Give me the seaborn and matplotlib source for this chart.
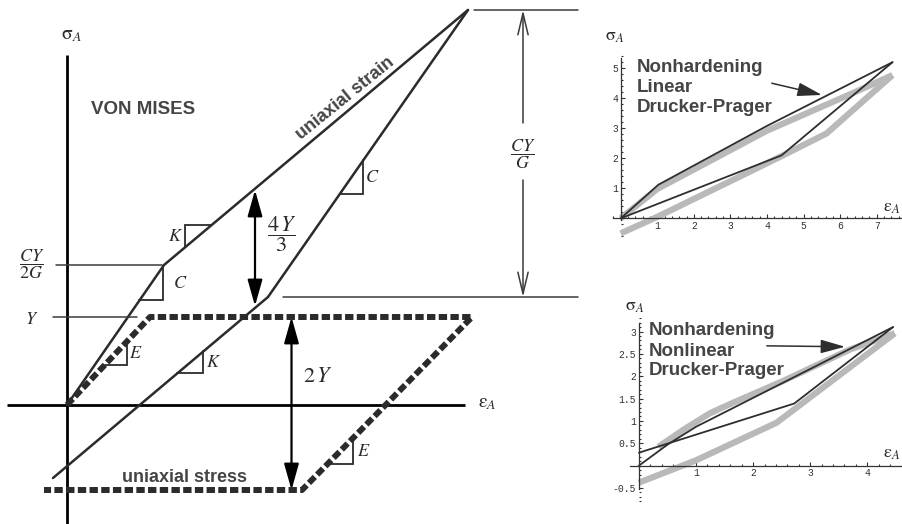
import matplotlib
matplotlib.use("Agg")
import matplotlib.pyplot as plt
from matplotlib.ticker import MultipleLocator, FixedLocator, FixedFormatter
import seaborn as sns

sns.set_theme(style="white")
plt.rcParams["font.family"] = ["Liberation Sans", "DejaVu Sans"]
plt.rcParams["mathtext.fontset"] = "stix"

INK = "#2b2b2b"
LABEL_GRAY = "#454545"
SIM_GRAY = "#b9b9b9"

# ---------------- Von Mises schematic (origin at the axis crossing) ----------------
yield_level = 88            # Y
knee_level = 140            # CY/2G
peak_level = 395            # top of the uniaxial-strain branch
reload_level = 108          # end of the elastic unloading branch

strain_load_x = [0, 97, 401]
strain_load_y = [0, knee_level, peak_level]
strain_unload_x = [401, 201, -14]
strain_unload_y = [peak_level, reload_level, -73]

stress_path_x = [0, 83, 405, 235, -23]
stress_path_y = [0, yield_level, yield_level, -85, -85]

# ---------------- Drucker-Prager simulations ----------------
lin_dark_up_x = [0, 1.03, 4.0, 7.43]
lin_dark_up_y = [0, 1.12, 3.08, 5.2]
lin_dark_lo_x = [0, 4.4, 7.43]
lin_dark_lo_y = [0, 2.1, 5.2]
lin_gray_up_x = [0, 1.0, 4.0, 6.4, 7.43]
lin_gray_up_y = [0, 0.98, 2.92, 4.2, 4.77]
lin_gray_lo_x = [0, 1.0, 4.36, 5.63, 7.43]
lin_gray_lo_y = [-0.5, 0.05, 2.05, 2.83, 4.77]
lin_xticks = [1, 2, 3, 4, 5, 6, 7]
lin_yticks = [1, 2, 3, 4, 5]

nl_dark_up_x = [0, 0.5, 1.0, 4.45]
nl_dark_up_y = [0, 0.47, 0.87, 3.1]
nl_dark_lo_x = [0, 2.72, 4.45]
nl_dark_lo_y = [0.29, 1.39, 3.1]
nl_gray_up_x = [0.34, 0.8, 1.24, 1.6, 2.5, 3.7, 4.48]
nl_gray_up_y = [0.42, 0.82, 1.17, 1.38, 1.88, 2.6, 2.96]
nl_gray_lo_x = [0, 1.0, 2.41, 4.48]
nl_gray_lo_y = [-0.38, 0.12, 0.96, 2.96]
nl_xticks = [1, 2, 3, 4]
nl_yticks = [-0.5, 0.5, 1, 1.5, 2, 2.5, 3]
nl_yticklabels = ["-0.5", "0.5", "1", "1.5", "2", "2.5", "3"]

W, H = 902, 524
fig = plt.figure(figsize=(W / 100, H / 100), dpi=100)
fig.patch.set_facecolor("white")

# ---------------- main schematic ----------------
ax = fig.add_axes([0, 0, 600 / W, 1])
ax.set_xlim(-67, 533)
ax.set_ylim(-119, 405)
ax.set_axis_off()

# coordinate axes
ax.plot([-60, 398], [0, 0], color="black", lw=2.0, solid_capstyle="butt")
ax.plot([0, 0], [-125, 350], color="black", lw=2.0, solid_capstyle="butt")
ax.text(4, 370, r"$\mathrm{\sigma}_{A}$", fontsize=14, ha="center", va="center", color=INK)
ax.text(420, 2, r"$\mathrm{\varepsilon}_{A}$", fontsize=14, ha="center", va="center", color=INK)

# load paths
sns.lineplot(x=stress_path_x, y=stress_path_y, sort=False, estimator=None, ax=ax,
             color=INK, lw=4.3, linestyle=(0, (1.4, 0.56)))
sns.lineplot(x=strain_load_x, y=strain_load_y, sort=False, estimator=None, ax=ax,
             color=INK, lw=1.8)
sns.lineplot(x=strain_unload_x, y=strain_unload_y, sort=False, estimator=None, ax=ax,
             color=INK, lw=1.8)

# level guide lines
guide = dict(color="#3a3a3a", lw=1.1)
ax.plot([-11, 95], [knee_level, knee_level], **guide)
ax.plot([-14, 70], [yield_level, yield_level], **guide)
ax.plot([407, 511], [peak_level, peak_level], **guide)
ax.plot([216, 511], [reload_level, reload_level], **guide)

ax.text(-35, knee_level + 1, r"$\dfrac{CY}{2G}$", fontsize=13, ha="center", va="center", color=INK)
ax.text(-35, yield_level - 2, r"$Y$", fontsize=13, ha="center", va="center", color=INK)


def slope_triangle(p0, p1, x_at, leg, label, dx, above=False):
    s = (p1[1] - p0[1]) / (p1[0] - p0[0])
    y_at = p0[1] + s * (x_at - p0[0])
    if above:
        xs = [x_at, x_at, x_at + leg / s]
        ys = [y_at, y_at + leg, y_at + leg]
        ym = y_at + leg / 2
    else:
        xs = [x_at, x_at, x_at - leg / s]
        ys = [y_at, y_at - leg, y_at - leg]
        ym = y_at - leg / 2
    ax.plot(xs, ys, color=INK, lw=1.3, solid_joinstyle="miter")
    ax.text(x_at + dx, ym, "$" + label + "$", fontsize=13, ha="center", va="center", color=INK)


slope_triangle((0, 0), (97, knee_level), 96.3, 34.4, "C", 17)
slope_triangle((97, knee_level), (401, peak_level), 118, 22, "K", -10, above=True)
slope_triangle((401, peak_level), (201, reload_level), 296.3, 34, "C", 9)
slope_triangle((0, 0), (83, yield_level), 60.3, 24, "E", 8)
slope_triangle((201, reload_level), (-14, -73), 136.3, 22, "K", 10)
slope_triangle((405, yield_level), (235, -85), 285.7, 25.6, "E", 11)

# dimension arrows
ax.annotate("", xy=(188, 99), xytext=(188, 215),
            arrowprops=dict(arrowstyle="<|-|>,head_length=1.6,head_width=0.45",
                            color="black", lw=1.6, shrinkA=0, shrinkB=0, mutation_scale=10))
ax.text(215, 171, r"$\dfrac{4\,Y}{3}$", fontsize=16, ha="center", va="center", color=INK)

ax.annotate("", xy=(224.5, -85), xytext=(224.5, yield_level),
            arrowprops=dict(arrowstyle="<|-|>,head_length=1.6,head_width=0.45",
                            color="black", lw=1.6, shrinkA=0, shrinkB=0, mutation_scale=10))
ax.text(251, 28, r"$2\,Y$", fontsize=16, ha="center", va="center", color=INK)

open_head = dict(arrowstyle="->,head_length=1.55,head_width=0.37", color="#3a3a3a",
                 lw=1.1, shrinkA=0, shrinkB=0, mutation_scale=10)
ax.annotate("", xy=(456, peak_level), xytext=(456, 282), arrowprops=open_head)
ax.annotate("", xy=(456, reload_level), xytext=(456, 225), arrowprops=open_head)
ax.text(456, 251, r"$\dfrac{CY}{G}$", fontsize=13, ha="center", va="center", color=INK)

# captions
bold = dict(fontweight="bold", color=LABEL_GRAY, family=["Liberation Sans", "DejaVu Sans"])
ax.text(76, 296, "VON MISES", fontsize=13.5, ha="center", va="center", **bold)
ax.text(278, 307, "uniaxial strain", fontsize=13, rotation=39, ha="center", va="center",
        rotation_mode="anchor", **bold)
ax.text(117, -73, "uniaxial stress", fontsize=13, ha="center", va="center", **bold)


# ---------------- small simulation panels ----------------
def style_panel(a, xlim, ylim, xb, yb, xticks, yticks, yticklabels=None):
    a.set_xlim(*xlim)
    a.set_ylim(*ylim)
    a.patch.set_alpha(0)
    for side in ("top", "right"):
        a.spines[side].set_visible(False)
    for side in ("left", "bottom"):
        a.spines[side].set_position(("data", 0))
        a.spines[side].set_color("#333333")
        a.spines[side].set_linewidth(0.9)
    a.spines["bottom"].set_bounds(*xb)
    a.spines["left"].set_bounds(*yb)
    a.xaxis.set_major_locator(FixedLocator(xticks))
    a.yaxis.set_major_locator(FixedLocator(yticks))
    if yticklabels is not None:
        a.yaxis.set_major_formatter(FixedFormatter(yticklabels))
    a.xaxis.set_minor_locator(MultipleLocator(0.2))
    a.yaxis.set_minor_locator(MultipleLocator(0.2 if yticklabels is None else 0.1))
    a.tick_params(which="both", direction="in", colors="#333333", width=0.8,
                  bottom=True, left=True, labelsize=7, pad=2)
    a.tick_params(which="major", length=3.2)
    a.tick_params(which="minor", length=1.6)
    for lab in a.get_xticklabels() + a.get_yticklabels():
        lab.set_family(["Liberation Mono", "DejaVu Sans Mono"])
    a.set_xlabel("")
    a.set_ylabel("")


def draw_sim(a, gray_up, gray_lo, dark_up, dark_lo):
    for xs, ys in (gray_up, gray_lo):
        sns.lineplot(x=xs, y=ys, sort=False, estimator=None, ax=a, color=SIM_GRAY,
                     lw=4.5, solid_capstyle="butt")
    for xs, ys in (dark_up, dark_lo):
        sns.lineplot(x=xs, y=ys, sort=False, estimator=None, ax=a, color="#2e2e2e", lw=1.3)


# linear Drucker-Prager panel
a1 = fig.add_axes([613 / W, 1 - 240 / H, 289 / W, 185 / H])
draw_sim(a1, (lin_gray_up_x, lin_gray_up_y), (lin_gray_lo_x, lin_gray_lo_y),
         (lin_dark_up_x, lin_dark_up_y), (lin_dark_lo_x, lin_dark_lo_y))
style_panel(a1, (-0.21, 7.69), (-0.72, 5.44), (-0.2, 7.69), (-0.05, 5.35),
            lin_xticks, lin_yticks)
for y, line in zip([4.87, 4.22, 3.55], ["Nonhardening", "Linear", "Drucker-Prager"]):
    a1.text(0.44, y, line, fontsize=13.5, ha="left", va="baseline", **bold)
a1.annotate("", xy=(5.5, 4.11), xytext=(4.13, 4.5),
            arrowprops=dict(arrowstyle="-|>,head_length=1.5,head_width=0.42", color="#2e2e2e",
                            lw=1.1, shrinkA=0, shrinkB=0, mutation_scale=10))
a1.text(-0.16, 6.04, r"$\mathrm{\sigma}_{A}$", fontsize=13, ha="center", va="center",
        color=INK, clip_on=False)
a1.text(7.64, 0.37, r"$\mathrm{\varepsilon}_{A}$", fontsize=13, ha="right", va="center",
        color=INK, clip_on=False)

# nonlinear Drucker-Prager panel
a2 = fig.add_axes([630 / W, 1 - 505 / H, 272 / W, 190 / H])
draw_sim(a2, (nl_gray_up_x, nl_gray_up_y), (nl_gray_lo_x, nl_gray_lo_y),
         (nl_dark_up_x, nl_dark_up_y), (nl_dark_lo_x, nl_dark_lo_y))
style_panel(a2, (-0.156, 4.607), (-0.88, 3.37), (-0.15, 4.607), (-0.52, 3.2),
            nl_xticks, nl_yticks, nl_yticklabels)
for y, line in zip([2.92, 2.45, 2.03], ["Nonhardening", "Nonlinear", "Drucker-Prager"]):
    a2.text(0.18, y, line, fontsize=13.5, ha="left", va="baseline", **bold)
a2.annotate("", xy=(3.61, 2.66), xytext=(2.24, 2.68),
            arrowprops=dict(arrowstyle="-|>,head_length=1.5,head_width=0.42", color="#2e2e2e",
                            lw=1.1, shrinkA=0, shrinkB=0, mutation_scale=10))
a2.text(-0.07, 3.56, r"$\mathrm{\sigma}_{A}$", fontsize=13, ha="center", va="center",
        color=INK, clip_on=False)
a2.text(4.57, 0.27, r"$\mathrm{\varepsilon}_{A}$", fontsize=13, ha="right", va="center",
        color=INK, clip_on=False)

fig.savefig("out.png", dpi=100, facecolor="white")
